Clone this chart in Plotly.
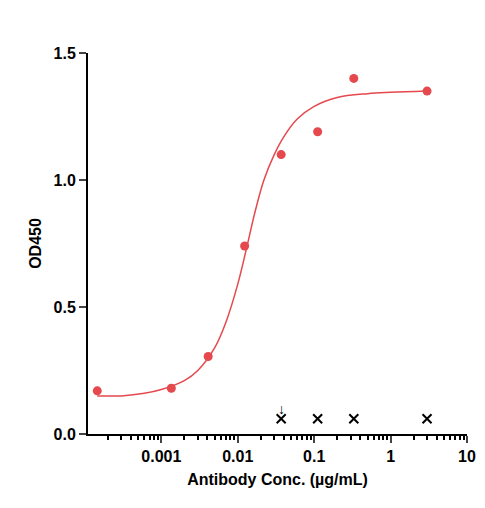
import plotly.graph_objects as go

# measured points
conc = [0.000145, 0.00135, 0.0041, 0.0123, 0.037, 0.111, 0.33, 3.0]
od450 = [0.17, 0.18, 0.305, 0.74, 1.10, 1.19, 1.40, 1.35]

# fitted curve
fit_x = [0.000145, 0.0003, 0.0006, 0.001, 0.002, 0.003, 0.005, 0.007, 0.01, 0.013,
         0.017, 0.022, 0.03, 0.04, 0.06, 0.1, 0.2, 0.5, 1.0, 3.0]
fit_y = [0.15, 0.15, 0.16, 0.175, 0.21, 0.25, 0.34, 0.44, 0.59, 0.73,
         0.88, 1.0, 1.1, 1.17, 1.24, 1.29, 1.325, 1.34, 1.345, 1.35]

# excluded points
excl_x = [0.037, 0.111, 0.33, 3.0]
excl_y = [0.06, 0.06, 0.06, 0.06]

red = "#E5484D"
minor_vals = [m * 10 ** e for e in range(-4, 1) for m in range(2, 10) if m * 10 ** e > 0.00011]

fig = go.Figure()
fig.add_trace(go.Scatter(x=fit_x, y=fit_y, mode="lines", line=dict(color=red, width=1.5, shape="spline")))
fig.add_trace(go.Scatter(x=conc, y=od450, mode="markers", marker=dict(color=red, size=9)))
fig.add_trace(go.Scatter(x=excl_x, y=excl_y, mode="markers",
                         marker=dict(symbol="x-thin", size=9, color="black", line=dict(width=2, color="black"))))
fig.add_annotation(x=-1.43, y=0.1, text="↓", showarrow=False, font=dict(size=14, color="black"))

axis_font = dict(family="Liberation Sans", size=16, color="black")
fig.update_layout(
    width=485, height=508, showlegend=False,
    plot_bgcolor="white", paper_bgcolor="white",
    margin=dict(l=80, r=26, t=45, b=82),
    font=dict(family="Liberation Sans", color="black"),
    xaxis=dict(type="log", range=[-3.96, 1.0], tickvals=[0.001, 0.01, 0.1, 1, 10],
               ticktext=["<b>0.001</b>", "<b>0.01</b>", "<b>0.1</b>", "<b>1</b>", "<b>10</b>"],
               ticks="outside", ticklen=7, tickwidth=2,
               minor=dict(ticks="outside", ticklen=4, tickwidth=1.5, tickvals=minor_vals, tickcolor="black"),
               showline=True, linecolor="black", linewidth=2, showgrid=False, zeroline=False,
               tickfont=axis_font,
               title=dict(text="<b>Antibody Conc. (µg/mL)</b>", font=axis_font, standoff=10)),
    yaxis=dict(range=[0, 1.5], tickvals=[0, 0.5, 1.0, 1.5],
               ticktext=["<b>0.0</b>", "<b>0.5</b>", "<b>1.0</b>", "<b>1.5</b>"],
               ticks="outside", ticklen=7, tickwidth=2, showline=True, linecolor="black", linewidth=2,
               showgrid=False, zeroline=False, tickfont=axis_font,
               title=dict(text="<b>OD450</b>", font=axis_font, standoff=8)),
)
fig.write_html("out.html")
